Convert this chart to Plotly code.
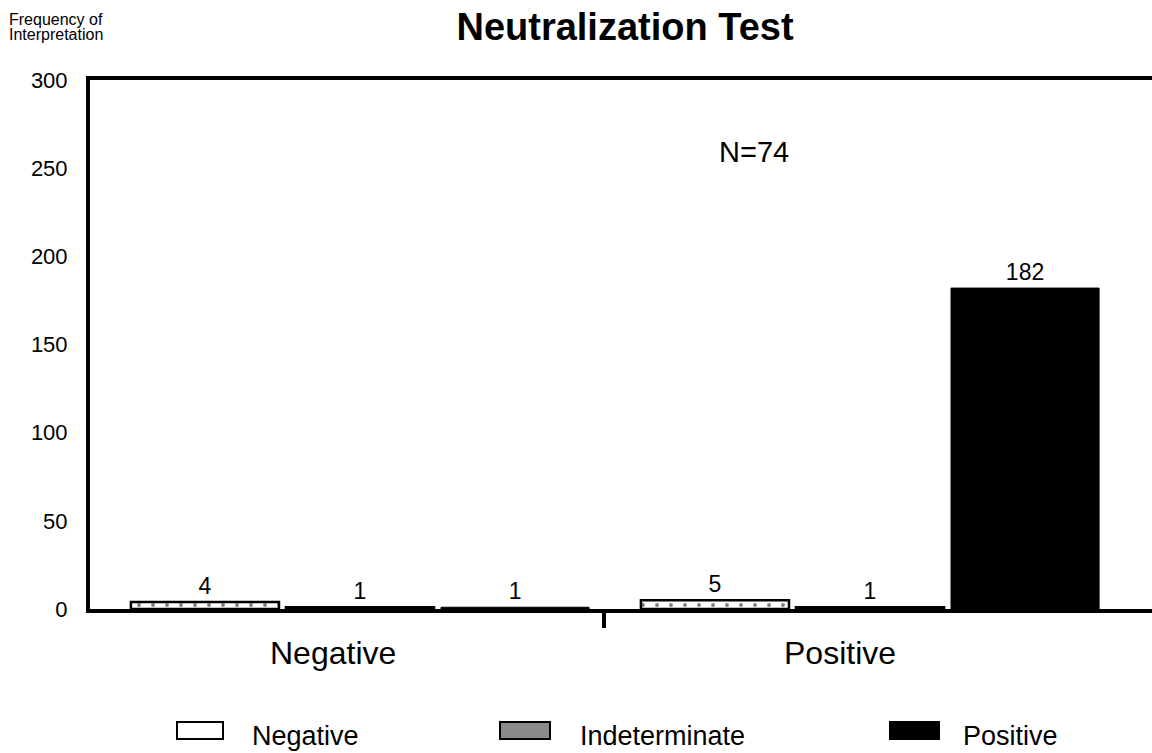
import plotly.graph_objects as go

categories = ["Negative", "Positive"]
series_names = ["Negative", "Indeterminate", "Positive"]
neg_vals = [4, 5]
ind_vals = [1, 1]
pos_vals = [1, 182]
y_ticks = [0, 50, 100, 150, 200, 250, 300]

FONT = "Liberation Sans, Arial, sans-serif"
LABEL_SIZE = 23

fig = go.Figure()
fig.add_trace(go.Bar(
    x=categories, y=neg_vals, name=series_names[0],
    text=[str(v) for v in neg_vals], textposition="outside",
    marker=dict(color="white", line=dict(color="black", width=2.5),
                pattern=dict(shape=".", fgcolor="black", bgcolor="white", size=14, solidity=0.06)),
    textfont=dict(size=LABEL_SIZE, color="black", family=FONT), cliponaxis=False))
fig.add_trace(go.Bar(
    x=categories, y=ind_vals, name=series_names[1],
    text=[str(v) for v in ind_vals], textposition="outside",
    marker=dict(color="#888888", line=dict(color="black", width=2.5),
                pattern=dict(shape=".", fgcolor="black", bgcolor="white", size=4, solidity=0.5)),
    textfont=dict(size=LABEL_SIZE, color="black", family=FONT), cliponaxis=False))
fig.add_trace(go.Bar(
    x=categories, y=pos_vals, name=series_names[2],
    text=[str(v) for v in pos_vals], textposition="outside",
    marker=dict(color="black", line=dict(color="black", width=1)),
    textfont=dict(size=LABEL_SIZE, color="black", family=FONT), cliponaxis=False))

UNIT = 510.0
C0 = 360.0

def px_x(p):
    return (p - 90) / 1062.0

def px_y(p):
    return (609 - p) / 529.0

def data_x(p):
    return (p - C0) / UNIT

shapes = []
annotations = []

# category divider tick
shapes.append(dict(type="line", xref="x", yref="paper", x0=data_x(604), x1=data_x(604),
                   y0=0, y1=-0.036, line=dict(color="black", width=4)))

# category labels
for label, xp in zip(categories, [333, 840]):
    annotations.append(dict(text=label, x=data_x(xp), xref="x", y=px_y(653), yref="paper",
                            showarrow=False, xanchor="center", yanchor="middle",
                            font=dict(size=32, family=FONT, color="black")))

# custom legend
legend_boxes = [(177, 223, "white"), (500, 550, "#8a8a8a"), (890, 939, "black")]
legend_text_x = [250, 578, 961]
for (x0, x1, col), tx, name in zip(legend_boxes, legend_text_x, series_names):
    shapes.append(dict(type="rect", xref="paper", yref="paper",
                       x0=px_x(x0), x1=px_x(x1), y0=px_y(739), y1=px_y(722),
                       fillcolor=col, line=dict(color="black", width=2)))
    annotations.append(dict(text=name, x=px_x(tx), xref="paper", y=px_y(736), yref="paper",
                            showarrow=False, xanchor="left", yanchor="middle",
                            font=dict(size=27, family=FONT, color="black")))

# N=74
annotations.append(dict(text="N=74", x=px_x(754), xref="paper", y=px_y(152), yref="paper",
                        showarrow=False, xanchor="center", yanchor="middle",
                        font=dict(size=29, family=FONT, color="black")))

# y label (two tight lines)
for i, line in enumerate(["Frequency of", "Interpretation"]):
    annotations.append(dict(text=line, x=px_x(7), xref="paper",
                            y=px_y(19 + i * 15), yref="paper", showarrow=False,
                            xanchor="left", yanchor="middle",
                            font=dict(size=16, family=FONT, color="black")))

fig.update_layout(
    width=1152, height=753,
    margin=dict(l=90, r=0, t=80, b=144),
    paper_bgcolor="white", plot_bgcolor="white",
    barmode="group", bargap=0.088, bargroupgap=0.045,
    showlegend=False,
    title=dict(text="<b>Neutralization Test</b>", x=625 / 1152, xanchor="center",
               y=1 - 27 / 753, yanchor="middle",
               font=dict(size=38, family=FONT, color="black")),
    xaxis=dict(range=[data_x(90), data_x(1152)], showticklabels=False, ticks="",
               showline=True, linewidth=4, linecolor="black", mirror=True,
               showgrid=False, zeroline=False, fixedrange=True),
    yaxis=dict(range=[0, 300], tickvals=y_ticks, ticks="", showline=True, linewidth=4,
               linecolor="black", showgrid=False, zeroline=False,
               tickfont=dict(size=22, family=FONT, color="black"), ticklabelstandoff=14),
    shapes=shapes, annotations=annotations,
    font=dict(family=FONT, color="black"),
)

fig.write_html("out.html", config={"displayModeBar": False},
               post_script="document.body.style.margin='0';document.body.style.padding='0';")
